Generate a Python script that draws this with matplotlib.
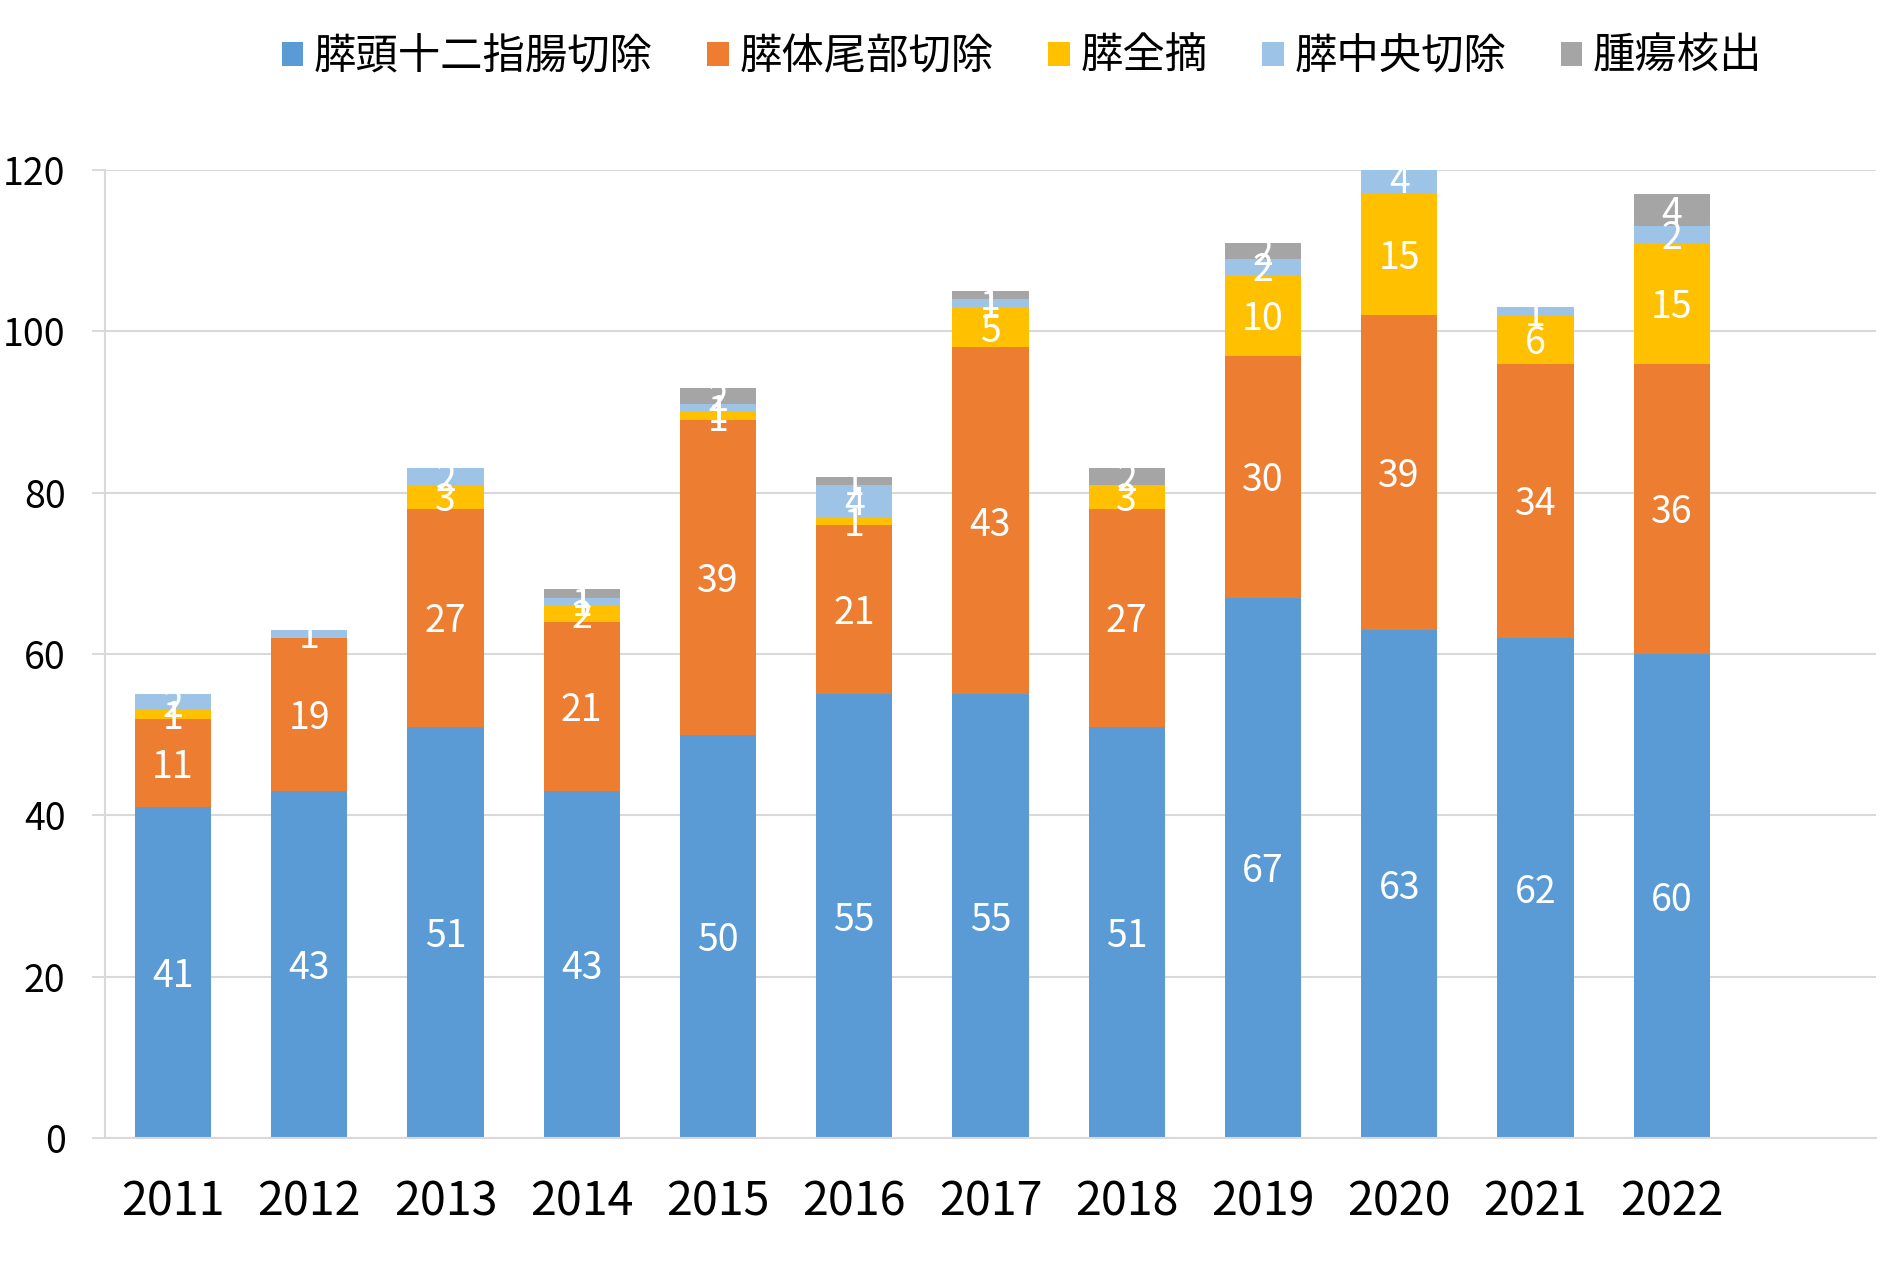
import numpy as np
import matplotlib
matplotlib.use("Agg")
import matplotlib.pyplot as plt

plt.rcParams['font.family'] = ['Noto Sans CJK JP', 'DejaVu Sans']

# データ
years = ["2011", "2012", "2013", "2014", "2015", "2016",
         "2017", "2018", "2019", "2020", "2021", "2022"]
series_names = ["膵頭十二指腸切除", "膵体尾部切除", "膵全摘", "膵中央切除", "腫瘍核出"]
pd_vals   = [41, 43, 51, 43, 50, 55, 55, 51, 67, 63, 62, 60]
dp_vals   = [11, 19, 27, 21, 39, 21, 43, 27, 30, 39, 34, 36]
tp_vals   = [1, 0, 3, 2, 1, 1, 5, 3, 10, 15, 6, 15]
cp_vals   = [2, 1, 2, 1, 1, 4, 1, 0, 2, 4, 1, 2]
enuc_vals = [0, 0, 0, 1, 2, 1, 1, 2, 2, 0, 0, 4]
colors = ["#5B9BD5", "#ED7D31", "#FFC000", "#9DC3E6", "#A5A5A5"]

all_vals = [pd_vals, dp_vals, tp_vals, cp_vals, enuc_vals]

W, H = 1891, 1273
fig = plt.figure(figsize=(W / 100, H / 100), dpi=100)
ax = fig.add_axes([105 / W, 1 - 1138 / H, (1876 - 105) / W, (1138 - 170) / H])

x = np.arange(len(years))
bottom = np.zeros(len(years))
for name, vals, col in zip(series_names, all_vals, colors):
    vals = np.array(vals, dtype=float)
    ax.bar(x, vals, 0.56, bottom=bottom, color=col, label=name, zorder=2)
    # 値ラベル（0 は表示しない）
    for xi, b, v in zip(x, bottom, vals):
        if v > 0:
            ax.annotate(str(int(v)), (xi, b + v / 2), xytext=(0, -3),
                        textcoords="offset points", ha="center", va="center",
                        color="white", fontsize=27, zorder=3)
    bottom += vals

ax.set_xlim(-0.5, 12.5)
ax.set_ylim(0, 120)
ax.set_yticks(np.arange(0, 121, 20))
ax.set_xticks(x)
ax.set_xticklabels(years, fontsize=33.5)
ax.tick_params(axis="y", labelsize=27, length=9.4, width=1.4, color="#D9D9D9", pad=19)
ax.tick_params(axis="x", length=0, pad=29)

ax.grid(axis="y", color="#D9D9D9", linewidth=1.5, zorder=0)
ax.set_axisbelow(True)
for s in ["top", "right"]:
    ax.spines[s].set_visible(False)
ax.spines["left"].set_color("#D9D9D9")
ax.spines["left"].set_linewidth(1.5)
ax.spines["bottom"].set_color("#D9D9D9")
ax.spines["bottom"].set_linewidth(1.5)

fig.legend(loc="center", bbox_to_anchor=(1022 / W, 1 - 57 / H), ncol=5,
           frameon=False, fontsize=30.5, handlelength=0.5, handleheight=0.5,
           handletextpad=0.25, columnspacing=1.3)

fig.savefig("out.png", dpi=100)
